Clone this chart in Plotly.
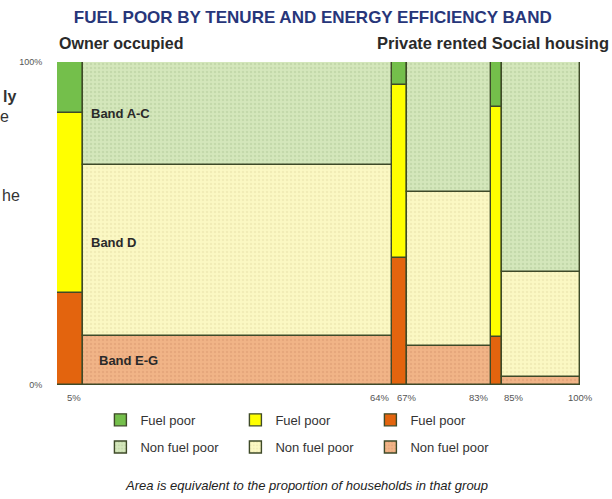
import plotly.graph_objects as go

# ---------------- data ----------------
tenures = ["Owner occupied", "Private rented", "Social housing"]
# cumulative share of households (%) at the right edge of each segment
segment_edges = [5, 64, 67, 83, 85, 100]
segment_tenure = ["Owner occupied", "Owner occupied", "Private rented",
                  "Private rented", "Social housing", "Social housing"]
segment_status = ["Fuel poor", "Non fuel poor", "Fuel poor",
                  "Non fuel poor", "Fuel poor", "Non fuel poor"]
# share (%) of each segment in each energy efficiency band
band_EG = [28.6, 15.2, 39.4, 12.0, 14.9, 2.5]
band_D = [55.6, 52.8, 53.6, 47.8, 71.3, 32.5]
band_AC = [15.8, 32.0, 7.0, 40.2, 13.8, 65.0]
band_names = ["Band E-G", "Band D", "Band A-C"]
x_tick_values = [5, 64, 67, 83, 85, 100]
x_tick_labels = ["5%", "64%", "67%", "83%", "85%", "100%"]
y_tick_values = [0, 100]
y_tick_labels = ["0%", "100%"]

# ---------------- styles ----------------
FONT = "Liberation Sans, Arial, sans-serif"
colors = {
    ("Band A-C", "Fuel poor"): "#74bf4b",
    ("Band A-C", "Non fuel poor"): "#d4e7bb",
    ("Band D", "Fuel poor"): "#ffff00",
    ("Band D", "Non fuel poor"): "#fbf8c3",
    ("Band E-G", "Fuel poor"): "#e3640e",
    ("Band E-G", "Non fuel poor"): "#f1b487",
}
dots = {
    "Band A-C": "#b3c99a",
    "Band D": "#e6e0a8",
    "Band E-G": "#d99a70",
}
edge_col = "#3e4a28"

left_edges = [0] + segment_edges[:-1]
widths = [r - l for l, r in zip(left_edges, segment_edges)]
mids = [l + w / 2 for l, w in zip(left_edges, widths)]
shares = {"Band E-G": band_EG, "Band D": band_D, "Band A-C": band_AC}

bases = {}
running = [0.0] * len(segment_edges)
for b in band_names:
    bases[b] = list(running)
    running = [r + v for r, v in zip(running, shares[b])]

fig = go.Figure()
legend_rank = {"Band A-C": 1, "Band D": 2, "Band E-G": 3}
for b in band_names:
    for status in ["Fuel poor", "Non fuel poor"]:
        idx = [i for i, s in enumerate(segment_status) if s == status]
        marker = dict(color=colors[(b, status)],
                      line=dict(color=edge_col, width=1.4))
        if status == "Non fuel poor":
            marker["pattern"] = dict(shape=".", fgcolor=dots[b], size=4,
                                     solidity=0.3, fillmode="overlay")
        fig.add_trace(go.Bar(
            x=[mids[i] for i in idx],
            y=[shares[b][i] for i in idx],
            base=[bases[b][i] for i in idx],
            width=[widths[i] for i in idx],
            customdata=[segment_tenure[i] for i in idx],
            name=status,
            marker=marker,
            legend="legend" if status == "Fuel poor" else "legend2",
            legendrank=legend_rank[b],
            hovertemplate="%{customdata}<br>" + b + " – " + status + ": %{y:.1f}%<extra></extra>",
        ))

# band labels inside owner-occupied non fuel poor block
owner_nfp = 1
for b in band_names:
    fig.add_annotation(
        x=left_edges[owner_nfp] + (2.6 if b == "Band E-G" else 1.2),
        y=bases[b][owner_nfp] + shares[b][owner_nfp] / 2 + (2.5 if b == "Band D" else 0),
        xref="x", yref="y", text=f"<b>{b}</b>", showarrow=False,
        xanchor="left", yanchor="middle",
        font=dict(size=13, color="#2a2a2a", family=FONT))

# x tick labels placed at the segment edges
tick_anchor = ["right", "right", "center", "right", "left", "center"]
for v, t, a in zip(x_tick_values, x_tick_labels, tick_anchor):
    fig.add_annotation(x=v, y=0, xref="x", yref="y", text=t, showarrow=False,
                       xanchor=a, yanchor="top", yshift=-5,
                       font=dict(size=9.5, color="#555555", family=FONT))

# tenure headers
fig.add_annotation(x=0, y=1.0, xref="paper", yref="paper", yshift=8,
                   text="<b>Owner occupied</b>", showarrow=False,
                   xanchor="left", yanchor="bottom",
                   font=dict(size=16, color="#2a2a2a", family=FONT))
fig.add_annotation(x=1.059, y=1.0, xref="paper", yref="paper", yshift=8,
                   text="<b>Private rented Social housing</b>", showarrow=False,
                   xanchor="right", yanchor="bottom",
                   font=dict(size=16.5, color="#2a2a2a", family=FONT))

# clipped slide text at the far left
for txt, xp, yp, bold in [("ly", -0.074, 0.892, True), ("e", -0.087, 0.83, False),
                          ("he", -0.067, 0.588, False)]:
    fig.add_annotation(x=xp, y=yp, xref="paper", yref="paper",
                       text=f"<b>{txt}</b>" if bold else txt, showarrow=False,
                       xanchor="right", yanchor="middle",
                       font=dict(size=16, color="#333333", family=FONT))

# footer
fig.add_annotation(x=0.478, y=-0.31, xref="paper", yref="paper",
                   text="<i>Area is equivalent to the proportion of households in that group</i>",
                   showarrow=False, xanchor="center", yanchor="middle",
                   font=dict(size=13, color="#222222", family=FONT))

legend_common = dict(orientation="h", xanchor="left", yanchor="middle",
                     x=0.083, entrywidth=90, entrywidthmode="pixels",
                     font=dict(size=13, color="#333333", family=FONT),
                     bgcolor="rgba(0,0,0,0)", traceorder="normal")

fig.update_layout(
    width=612, height=499,
    margin=dict(l=57, r=32, t=62, b=114),
    paper_bgcolor="white", plot_bgcolor="white",
    barmode="overlay",
    bargap=0,
    title=dict(text="<b>FUEL POOR BY TENURE AND ENERGY EFFICIENCY BAND</b>",
               x=0.511, xanchor="center", y=0.965, yanchor="middle",
               font=dict(size=17, color="#27367a", family=FONT)),
    legend=dict(y=-0.108, **legend_common),
    legend2=dict(y=-0.192, **legend_common),
    xaxis=dict(range=[0, 100], showgrid=False, zeroline=False, showline=False,
               showticklabels=False, ticks=""),
    yaxis=dict(range=[0, 100], showgrid=False, zeroline=False, showline=False,
               tickvals=y_tick_values, ticktext=y_tick_labels,
               ticks="outside", ticklen=12, tickcolor="rgba(0,0,0,0)",
               tickfont=dict(size=9, color="#555555", family=FONT)),
)

fig.write_html("out.html", config={"displayModeBar": False},
               post_script="document.body.style.margin='0';")
